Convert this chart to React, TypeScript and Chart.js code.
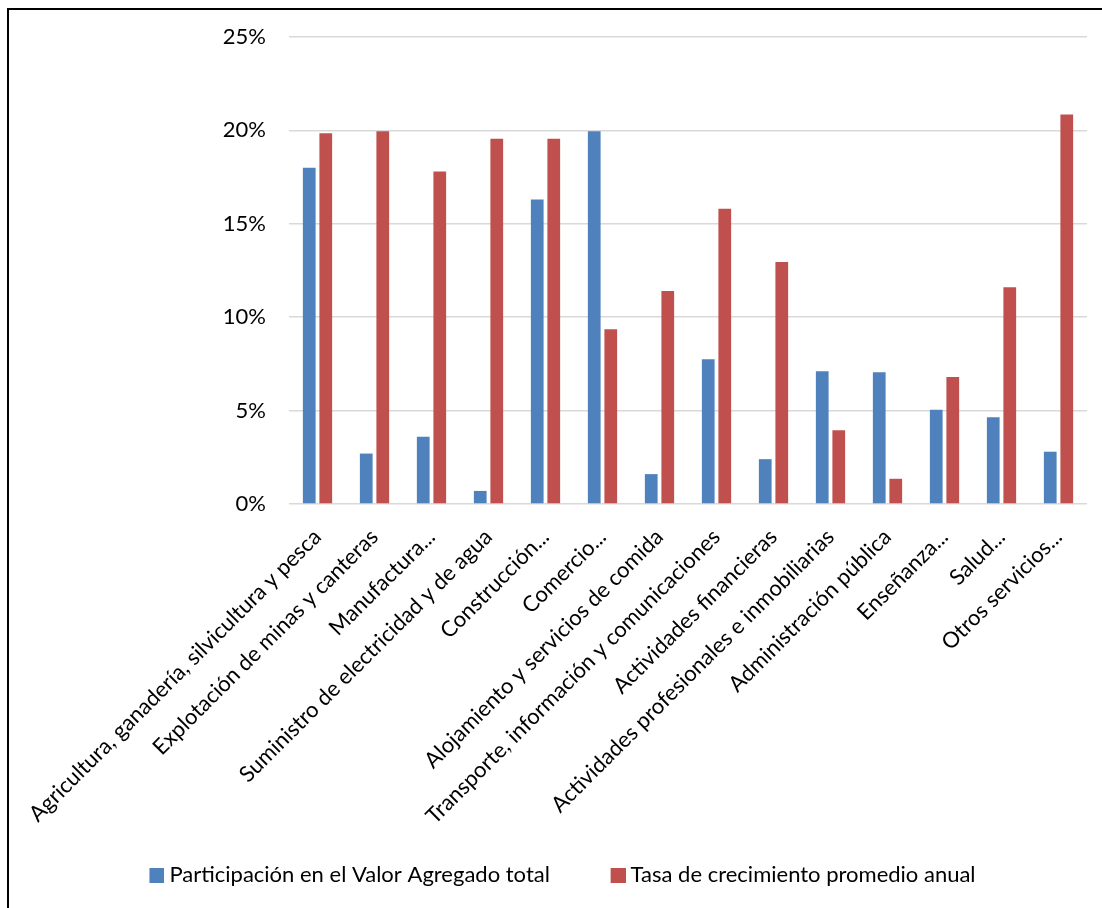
import React, { useEffect, useRef } from "react";
import { Chart, registerables } from "chart.js";

Chart.register(...registerables);

const categories = [
  "Agricultura, ganadería, silvicultura y pesca",
  "Explotación de minas y canteras",
  "Manufactura...",
  "Suministro de electricidad y de agua",
  "Construcción...",
  "Comercio...",
  "Alojamiento y servicios de comida",
  "Transporte, información y comunicaciones",
  "Actividades financieras",
  "Actividades profesionales e inmobiliarias",
  "Administración pública",
  "Enseñanza...",
  "Salud...",
  "Otros servicios...",
];

const participacion = [18.0, 2.7, 3.6, 0.7, 16.3, 19.95, 1.6, 7.75, 2.4, 7.1, 7.05, 5.05, 4.65, 2.8];
const tasaCrecimiento = [19.85, 19.95, 17.8, 19.55, 19.55, 9.35, 11.4, 15.8, 12.95, 3.95, 1.35, 6.8, 11.6, 20.85];

const seriesNames = ["Participación en el Valor Agregado total", "Tasa de crecimiento promedio anual"];
const seriesColors = ["#4F81BD", "#C0504D"];
const yTicks = [0, 5, 10, 15, 20, 25];

const FONT = "Lato, 'Open Sans', sans-serif";
const FONT_SIZE = 22;

function legendSwatch(color: string): HTMLCanvasElement {
  // 21px wide image: the visible 15px square sits in its right part
  const c = document.createElement("canvas");
  c.width = 21;
  c.height = 15;
  const g = c.getContext("2d");
  if (g) {
    g.fillStyle = color;
    g.fillRect(6, 0, 15, 15);
  }
  return c;
}

export default function App() {
  const ref = useRef<HTMLCanvasElement | null>(null);

  useEffect(() => {
    if (!ref.current) return;
    const swatches = seriesColors.map(legendSwatch);
    const chart = new Chart(ref.current, {
      type: "bar",
      data: {
        labels: categories,
        datasets: [
          {
            label: seriesNames[0],
            data: participacion,
            backgroundColor: seriesColors[0],
            categoryPercentage: 0.58,
            barPercentage: 0.77,
          },
          {
            label: seriesNames[1],
            data: tasaCrecimiento,
            backgroundColor: seriesColors[1],
            categoryPercentage: 0.58,
            barPercentage: 0.77,
          },
        ],
      },
      options: {
        animation: false,
        responsive: false,
        devicePixelRatio: 1,
        layout: { padding: { left: 38, right: 15, top: 37, bottom: 12 } },
        plugins: {
          tooltip: { enabled: false },
          legend: {
            position: "bottom",
            labels: {
              usePointStyle: true,
              pointStyleWidth: 9,
              boxWidth: 15,
              boxHeight: 15,
              padding: 10,
              color: "#000",
              font: { family: FONT, size: FONT_SIZE },
              generateLabels: (c: any) => {
                const items = Chart.defaults.plugins.legend.labels.generateLabels(c);
                const ctx = c.ctx;
                ctx.save();
                ctx.font = `${FONT_SIZE}px ${FONT}`;
                const sp = ctx.measureText("\u00A0").width || 5;
                ctx.restore();
                items.forEach((it: any, i: number) => {
                  it.pointStyle = swatches[i];
                  it.lineWidth = 0;
                });
                if (items[0]) items[0].text = items[0].text + "\u00A0".repeat(Math.round(50 / sp));
                return items;
              },
            },
          },
        },
        scales: {
          x: {
            grid: { display: false },
            border: { display: false },
            afterFit: (s: any) => {
              s.paddingLeft = 0;
              s.paddingRight = 0;
              s.height = 350;
            },
            ticks: {
              autoSkip: false,
              minRotation: 45,
              maxRotation: 45,
              color: "#000",
              padding: 12,
              font: { family: FONT, size: FONT_SIZE },
            },
          },
          y: {
            min: yTicks[0],
            max: yTicks[yTicks.length - 1],
            afterBuildTicks: (axis: any) => {
              axis.ticks = yTicks.map((v) => ({ value: v }));
            },
            afterFit: (s: any) => {
              s.width = 251;
              s.paddingTop = 0;
              s.paddingBottom = 0;
            },
            ticks: {
              color: "#000",
              padding: 23,
              font: { family: FONT, size: FONT_SIZE },
              callback: (v: any) => `${v}%`,
            },
            grid: { color: "#D9D9D9", lineWidth: 1.5, drawTicks: false },
            border: { display: false },
          },
        },
      },
    });
    return () => chart.destroy();
  }, []);

  return (
    <div style={{ position: "fixed", inset: 0, overflow: "hidden", background: "#fff" }}>
      <div
        style={{
          position: "absolute",
          left: 7,
          top: 8,
          width: 2000,
          height: 2000,
          borderLeft: "2px solid #000",
          borderTop: "2px solid #000",
        }}
      />
      <canvas
        ref={ref}
        width={1102}
        height={908}
        style={{ position: "absolute", left: 0, top: 0, width: 1102, height: 908 }}
      />
    </div>
  );
}
